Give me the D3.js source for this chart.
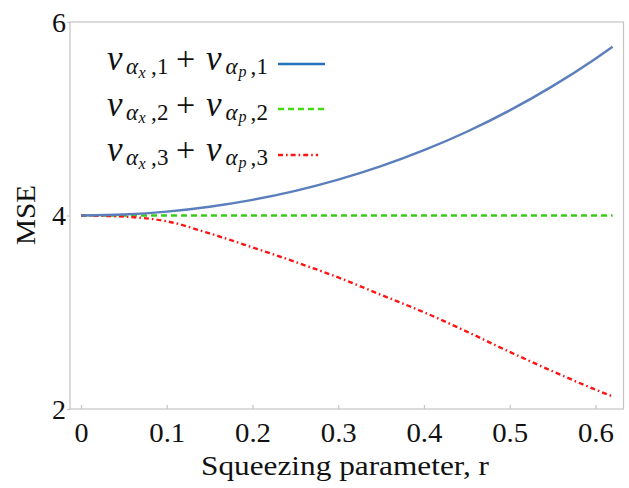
<!DOCTYPE html>
<html>
<head>
<meta charset="utf-8">
<script src="https://cdn.jsdelivr.net/npm/d3@7"></script>
<style>
  html, body { margin: 0; padding: 0; background: #fff; }
  svg { display: block; }
  svg text { font-family: "Liberation Serif", "Times New Roman", "DejaVu Serif", serif !important; }
</style>
</head>
<body>
<svg id="chart" width="629" height="488"></svg>
<script>
// ---------- data ----------
const rValues = [0, 0.05, 0.10, 0.15, 0.20, 0.25, 0.30, 0.35, 0.40, 0.45, 0.50, 0.55, 0.60, 0.62];
const series1 = [4.000, 4.010, 4.040, 4.091, 4.162, 4.255, 4.371, 4.510, 4.675, 4.866, 5.086, 5.337, 5.621, 5.745];
const series2 = [4, 4, 4, 4, 4, 4, 4, 4, 4, 4, 4, 4, 4, 4];
const series3 = [4.000, 3.988, 3.940, 3.815, 3.670, 3.520, 3.360, 3.180, 3.000, 2.800, 2.590, 2.390, 2.200, 2.130];
const xTicks = [0, 0.1, 0.2, 0.3, 0.4, 0.5, 0.6];
const xTickLabels = ["0", "0.1", "0.2", "0.3", "0.4", "0.5", "0.6"];
const yTicks = [2, 4, 6];
const yTickLabels = ["2", "4", "6"];
const legendIndex = ["1", "2", "3"];
const xLabel = "Squeezing parameter, r";
const yLabel = "MSE";

(function () {
// ---------- layout ----------
const svg = d3.select("#chart");
const pLeft = 70, pRight = 623.5, pTop = 22, pBottom = 409;
const x = d3.scaleLinear().domain([-0.01283, 0.6327]).range([pLeft, pRight]);
const y = d3.scaleLinear().domain([2, 6]).range([pBottom, pTop]);
const frameColor = "#c4c4c4";

// frame
svg.append("rect").attr("x", pLeft).attr("y", pTop)
  .attr("width", pRight - pLeft).attr("height", pBottom - pTop)
  .attr("fill", "none").attr("stroke", frameColor).attr("stroke-width", 1.2);

// x ticks (inward) and labels
const xAxis = d3.axisBottom(x).tickValues(xTicks).tickSizeInner(-4).tickSizeOuter(0)
  .tickFormat((d, i) => xTickLabels[i]);
const gx = svg.append("g").attr("transform", `translate(0,${pBottom})`).call(xAxis);
gx.select(".domain").remove();
gx.selectAll(".tick line").attr("stroke", frameColor).attr("stroke-width", 1.2);
gx.selectAll(".tick text").attr("font-size", 28).attr("fill", "#111")
  .attr("dy", 0).attr("y", 33)
  .each(function (d, i) {
    if (xTickLabels[i].length > 1) {
      d3.select(this).attr("textLength", 36).attr("lengthAdjust", "spacingAndGlyphs");
    }
  });

// y ticks and labels
const yAxis = d3.axisLeft(y).tickValues(yTicks).tickSizeInner(3).tickSizeOuter(0)
  .tickFormat((d, i) => yTickLabels[i]);
const gy = svg.append("g").attr("transform", `translate(${pLeft},0)`).call(yAxis);
gy.select(".domain").remove();
gy.selectAll(".tick line").attr("stroke", frameColor).attr("stroke-width", 1.2);
gy.selectAll(".tick text").attr("font-size", 28).attr("fill", "#111")
  .attr("dy", 0).attr("y", 9).attr("x", -4);

// axis labels
svg.append("text").attr("x", 345).attr("y", 475).attr("text-anchor", "middle")
  .attr("font-size", 27).attr("fill", "#111")
  .attr("textLength", 288).attr("lengthAdjust", "spacingAndGlyphs")
  .text(xLabel);
svg.append("text").attr("transform", "translate(35,215) rotate(-90)")
  .attr("text-anchor", "middle").attr("font-size", 27).attr("fill", "#111")
  .attr("textLength", 60).attr("lengthAdjust", "spacingAndGlyphs")
  .text(yLabel);

// ---------- lines ----------
const styles = [
  { vals: series1, color: "#5b7fbd", dash: null, w: 2.4, legendColor: "#2572b9", legendDash: null, legendEnd: 325 },
  { vals: series2, color: "#3acb18", dash: "6,4", w: 2.4, legendColor: "#44dd11", legendDash: "6,4", legendEnd: 325 },
  { vals: series3, color: "#ff1414", dash: "5,3,1.6,3", w: 2.4, legendColor: "#ff1414", legendDash: "5,3,1.6,3", legendEnd: 318 }
];
const line = d3.line().x(d => x(d[0])).y(d => y(d[1])).curve(d3.curveMonotoneX);
const plotOrder = [1, 2, 0];
plotOrder.forEach(k => {
  const s = styles[k];
  const pts = rValues.map((r, i) => [r, s.vals[i]]);
  svg.append("path").attr("d", line(pts)).attr("fill", "none")
    .attr("stroke", s.color).attr("stroke-width", s.w)
    .attr("stroke-dasharray", s.dash);
});

// ---------- legend ----------
const rowBase = [70, 115.5, 161];
const lineY = [64, 109, 155];
legendIndex.forEach((idx, i) => {
  const B = rowBase[i];
  const g = svg.append("g").attr("fill", "#111");
  const pieces = [
    { t: "v", x: 107, dy: 0, s: 35, it: true },
    { t: "α", x: 126, dy: 4, s: 23, it: true },
    { t: "x", x: 138.5, dy: 7.5, s: 16, it: true },
    { t: ",", x: 151, dy: 4, s: 23, it: false },
    { t: idx, x: 157, dy: 4, s: 23, it: false },
    { t: "+", x: 176, dy: 0, s: 34, it: false },
    { t: "v", x: 206, dy: 0, s: 35, it: true },
    { t: "α", x: 225.5, dy: 4, s: 23, it: true },
    { t: "p", x: 238.5, dy: 6.5, s: 16, it: true },
    { t: ",", x: 250.5, dy: 4, s: 23, it: false },
    { t: idx, x: 256.5, dy: 4, s: 23, it: false }
  ];
  pieces.forEach(p => {
    g.append("text").attr("x", p.x).attr("y", B + p.dy)
      .attr("font-size", p.s).attr("font-style", p.it ? "italic" : "normal")
      .text(p.t);
  });
  const s = styles[i];
  svg.append("line").attr("x1", 278).attr("x2", s.legendEnd)
    .attr("y1", lineY[i]).attr("y2", lineY[i])
    .attr("stroke", s.legendColor).attr("stroke-width", 2.6)
    .attr("stroke-dasharray", s.legendDash);
});
})();
</script>
</body>
</html>
